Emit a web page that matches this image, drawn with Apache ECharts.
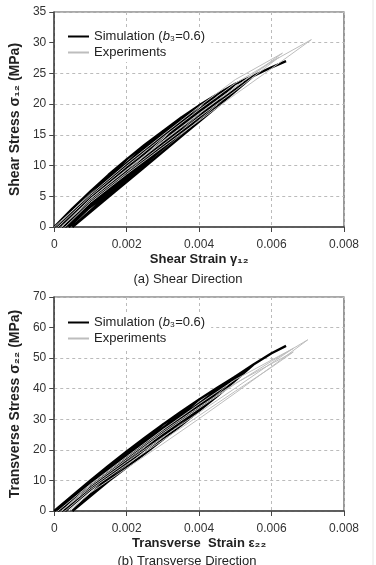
<!DOCTYPE html>
<html>
<head>
<meta charset="utf-8">
<script src="https://cdn.jsdelivr.net/npm/echarts@6/dist/echarts.min.js"></script>
<style>
  html, body { margin: 0; padding: 0; background: #fff; }
  #chart { width: 376px; height: 565px; }
</style>
</head>
<body>
<div id="chart"></div>
<script>
// [strain, stress MPa] paths: loading envelope with unload / reload loops
const shearSim = [
  [0, 0], [0.0005, 3.0], [0.001, 5.8], [0.0015, 8.5], [0.002, 11.0],
  [0.0012, 6.2], [0.0001, 0],
  [0.001, 5.2], [0.002, 11.0], [0.0025, 13.4], [0.003, 15.6],
  [0.002, 9.9], [0.001, 4.5], [0.0002, 0],
  [0.001, 4.9], [0.002, 10.4], [0.003, 15.6], [0.0035, 17.8],
  [0.0025, 12.0], [0.0015, 6.6], [0.0002, 0],
  [0.0015, 7.0], [0.0025, 12.6], [0.0035, 17.8], [0.004, 19.8],
  [0.003, 14.0], [0.002, 8.6], [0.001, 3.6], [0.0003, 0],
  [0.001, 4.0], [0.002, 9.2], [0.003, 14.7], [0.004, 19.8], [0.0045, 21.6],
  [0.0035, 16.0], [0.0025, 10.8], [0.0015, 5.6], [0.0003, 0],
  [0.0015, 6.0], [0.0025, 11.3], [0.0035, 16.6], [0.0045, 21.6], [0.005, 23.3],
  [0.004, 18.0], [0.003, 13.0], [0.002, 8.0], [0.001, 3.3], [0.0004, 0],
  [0.001, 3.6], [0.002, 8.5], [0.003, 13.6], [0.004, 18.6], [0.005, 23.3], [0.0055, 24.6],
  [0.0045, 19.6], [0.0035, 14.7], [0.0025, 9.8], [0.0015, 4.9], [0.0005, 0],
  [0.0015, 5.3], [0.0025, 10.3], [0.0035, 15.3], [0.0045, 20.2], [0.0055, 24.6], [0.006, 26.0], [0.0064, 27.0]
];
const shearExpA = [
  [0.0002, 0], [0.001, 4.6], [0.002, 9.4], [0.003, 14.0], [0.004, 18.5], [0.005, 22.8], [0.006, 26.9], [0.0071, 30.5],
  [0.006, 25.8], [0.005, 21.6], [0.004, 17.3], [0.003, 13.0], [0.002, 8.6], [0.001, 4.0], [0.0003, 0]
];
const shearExpB = [
  [0, 0], [0.001, 5.3], [0.002, 10.3], [0.003, 15.0], [0.004, 19.6], [0.005, 24.0], [0.0063, 28.3],
  [0.005, 22.8], [0.004, 18.4], [0.003, 13.9], [0.002, 9.3], [0.001, 4.6], [0.0002, 0]
];
const shearExpC = [
  [0.0001, 0], [0.001, 5.0], [0.002, 9.9], [0.003, 14.6], [0.004, 19.1], [0.005, 23.4], [0.0062, 27.6],
  [0.005, 22.2], [0.004, 17.9], [0.003, 13.4], [0.002, 8.9], [0.001, 4.3], [0.0002, 0]
];

const transSim = [
  [0, 0], [0.0005, 5.0], [0.001, 10.0], [0.0015, 14.8], [0.002, 19.5],
  [0.001, 9.0], [0.0001, 0],
  [0.001, 9.6], [0.002, 19.5], [0.0025, 24.0], [0.003, 28.3],
  [0.002, 18.0], [0.001, 8.3], [0.0002, 0],
  [0.001, 8.9], [0.002, 18.6], [0.003, 28.3], [0.0035, 32.5], [0.004, 36.5],
  [0.003, 26.0], [0.002, 16.8], [0.001, 7.6], [0.0002, 0],
  [0.001, 8.2], [0.002, 17.6], [0.003, 27.2], [0.004, 36.5], [0.0045, 40.3], [0.005, 44.0],
  [0.004, 33.6], [0.003, 24.6], [0.002, 15.8], [0.001, 7.0], [0.0003, 0],
  [0.001, 7.6], [0.002, 16.8], [0.003, 26.0], [0.004, 35.2], [0.005, 44.0], [0.0055, 47.9],
  [0.0045, 37.6], [0.0035, 28.0], [0.0025, 18.8], [0.0015, 9.8], [0.0005, 0],
  [0.0015, 10.8], [0.0025, 20.2], [0.0035, 29.8], [0.0045, 39.4], [0.0055, 47.9], [0.006, 51.6], [0.0064, 54.0]
];
const transExpA = [
  [0.0002, 0], [0.001, 8.2], [0.002, 16.8], [0.003, 25.4], [0.004, 33.6], [0.005, 41.6], [0.006, 49.0], [0.007, 56.0],
  [0.006, 47.2], [0.005, 38.6], [0.004, 30.2], [0.003, 22.0], [0.002, 14.0], [0.001, 6.0], [0.0004, 0]
];
const transExpB = [
  [0.0001, 0], [0.001, 8.8], [0.002, 17.8], [0.003, 26.6], [0.004, 35.0], [0.005, 43.0], [0.0066, 53.2],
  [0.006, 48.4], [0.005, 40.2], [0.004, 32.2], [0.003, 24.2], [0.002, 16.0], [0.001, 7.6], [0.0002, 0]
];
const transExpC = [
  [0.0002, 0], [0.001, 8.6], [0.002, 17.4], [0.003, 26.0], [0.004, 34.0], [0.005, 41.8], [0.0066, 52.0],
  [0.006, 47.0], [0.005, 39.2], [0.004, 31.2], [0.003, 23.2], [0.002, 15.2], [0.001, 7.0], [0.0003, 0]
];

const font = "'Liberation Sans', Arial, sans-serif";
const axisColor = '#444';

function xAxisFor(idx, name) {
  return {
    gridIndex: idx, type: 'value', min: 0, max: 0.008, interval: 0.002,
    name: name, nameLocation: 'middle', nameGap: 26,
    nameTextStyle: { fontFamily: font, fontWeight: 'bold', fontSize: 13, color: '#222' },
    axisLine: { lineStyle: { color: axisColor, width: 1.5 } },
    axisTick: { show: true, length: 5, inside: false, lineStyle: { color: axisColor } },
    axisLabel: {
      margin: 12, fontFamily: font, fontSize: 12, color: '#333',
      formatter: v => (v === 0 ? '0' : v.toFixed(3))
    },
    splitLine: { show: true, lineStyle: { color: '#bbb', type: [3, 3], width: 1 } }
  };
}
function yAxisFor(idx, name, max, interval) {
  return {
    gridIndex: idx, type: 'value', min: 0, max: max, interval: interval,
    name: name, nameLocation: 'middle', nameGap: 26, nameRotate: 90,
    nameTextStyle: { fontFamily: font, fontWeight: 'bold', fontSize: 14, color: '#222' },
    axisLine: { show: true, lineStyle: { color: axisColor, width: 1.5 } },
    axisTick: { show: true, length: 5, inside: false, lineStyle: { color: axisColor } },
    axisLabel: { margin: 8, fontFamily: font, fontSize: 12, color: '#333' },
    splitLine: { show: true, lineStyle: { color: '#bbb', type: [3, 3], width: 1 } }
  };
}
function simSeries(idx, data) {
  return {
    name: 'Simulation', type: 'line', xAxisIndex: idx, yAxisIndex: idx, data: data,
    symbol: 'none', smooth: false, lineStyle: { color: '#000', width: 2.4 }, itemStyle: { color: '#000' }, z: 2
  };
}
function expSeries(idx, data) {
  return {
    name: 'Experiments', type: 'line', xAxisIndex: idx, yAxisIndex: idx, data: data,
    symbol: 'none', smooth: false, lineStyle: { color: '#bdbdbd', width: 1 }, itemStyle: { color: '#bdbdbd' }, z: 3
  };
}
function legendFor(top) {
  return {
    orient: 'vertical', left: 55, top: top,
    padding: [3, 6, 3, 12], itemGap: 3, itemWidth: 21, itemHeight: 14,
    backgroundColor: '#fff',
    itemStyle: { opacity: 0 },
    data: ['Simulation', 'Experiments'],
    textStyle: {
      fontFamily: font, fontSize: 13, color: '#222',
      rich: {
        n: { fontFamily: font, fontSize: 13, color: '#222' },
        i: { fontFamily: font, fontSize: 13, color: '#222', fontStyle: 'italic' }
      }
    },
    formatter: name => name === 'Simulation' ? '{n|Simulation (}{i|b}{n|₃=0.6)}' : '{n|Experiments}'
  };
}

const chart = echarts.init(document.getElementById('chart'));
chart.setOption({
  animation: false,
  backgroundColor: '#fff',
  grid: [
    { left: 54, top: 12, width: 290, height: 215, show: true, borderColor: '#555', borderWidth: 1.2, backgroundColor: 'transparent' },
    { left: 54, top: 297, width: 290, height: 214, show: true, borderColor: '#555', borderWidth: 1.2, backgroundColor: 'transparent' }
  ],
  xAxis: [
    xAxisFor(0, 'Shear Strain γ₁₂'),
    xAxisFor(1, 'Transverse  Strain ε₂₂')
  ],
  yAxis: [
    yAxisFor(0, 'Shear Stress σ₁₂ (MPa)', 35, 5),
    yAxisFor(1, 'Transverse Stress σ₂₂ (MPa)', 70, 10)
  ],
  legend: [legendFor(27), legendFor(313)],
  title: [
    { text: '(a) Shear Direction', left: 183, top: 268, textAlign: 'center',
      textStyle: { fontFamily: font, fontSize: 13, fontWeight: 'normal', color: '#222' } },
    { text: '(b) Transverse Direction', left: 182, top: 550, textAlign: 'center',
      textStyle: { fontFamily: font, fontSize: 13, fontWeight: 'normal', color: '#222' } }
  ],
  graphic: [
    { type: 'line', shape: { x1: 373, y1: 0, x2: 373, y2: 565 }, style: { stroke: '#e6e6e6', lineWidth: 1 } }
  ],
  series: [
    simSeries(0, shearSim),
    expSeries(0, shearExpA),
    expSeries(0, shearExpB),
    expSeries(0, shearExpC),
    simSeries(1, transSim),
    expSeries(1, transExpA),
    expSeries(1, transExpB),
    expSeries(1, transExpC)
  ]
});
</script>
</body>
</html>
